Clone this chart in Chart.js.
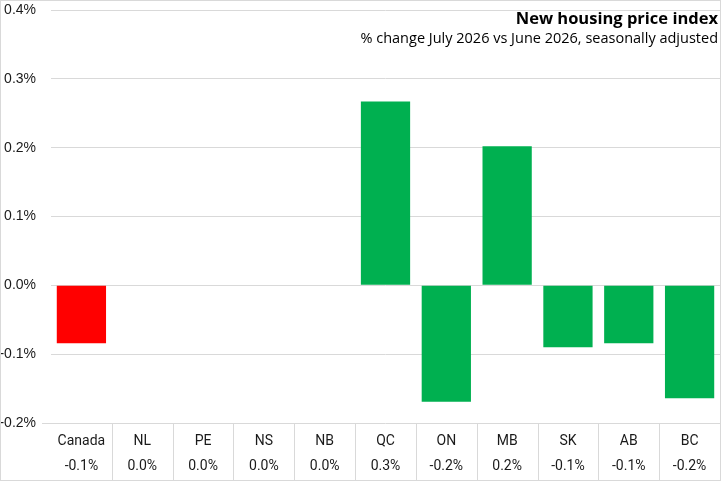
<!DOCTYPE html>
<html>
<head>
<meta charset="utf-8">
<script src="https://cdn.jsdelivr.net/npm/chart.js@4/dist/chart.umd.min.js"></script>
<style>
  html, body { margin: 0; padding: 0; background: #fff; }
  #wrap { width: 721px; height: 481px; }
</style>
</head>
<body>
<div id="wrap"><canvas id="chart" width="721" height="481"></canvas></div>
<script>
// New housing price index, % change by province

var categories = ['Canada', 'NL', 'PE', 'NS', 'NB', 'QC', 'ON', 'MB', 'SK', 'AB', 'BC'];
var values = [-0.084, 0, 0, 0, 0, 0.267, -0.169, 0.202, -0.090, -0.084, -0.164];
var barColors = ['#FF0000', '#00B050', '#00B050', '#00B050', '#00B050', '#00B050',
                 '#00B050', '#00B050', '#00B050', '#00B050', '#00B050'];
var yTicks = [-0.2, -0.1, 0, 0.1, 0.2, 0.3, 0.4];

var titleText = 'New housing price index';
var subtitleText = '% change July 2026 vs June 2026, seasonally adjusted';

var gridColor = '#d9d9d9';
var textColor = '#1a1a1a';

// title, data table lines and outer frame
var decorPlugin = {
  id: 'decor',
  afterDraw: function (chart) {
    var c = chart.ctx;
    var area = chart.chartArea;
    var x = chart.scales.x;
    c.save();
    c.strokeStyle = gridColor;
    c.lineWidth = 1;

    // table separators between categories
    c.beginPath();
    for (var i = 1; i < categories.length; i++) {
      var px = Math.round((x.getPixelForValue(i - 1) + x.getPixelForValue(i)) / 2) + 0.5;
      c.moveTo(px, area.bottom);
      c.lineTo(px, chart.height);
    }
    // table top line extends a bit left of the plot
    c.moveTo(42, Math.round(area.bottom) + 0.5);
    c.lineTo(area.left, Math.round(area.bottom) + 0.5);
    c.stroke();

    // outer frame
    c.strokeRect(0.5, 0.5, chart.width - 1, chart.height - 1);

    // titles, right aligned inside the plot
    c.fillStyle = '#000';
    c.textAlign = 'right';
    c.textBaseline = 'middle';
    c.font = 'bold 16.5px "Open Sans", Roboto, sans-serif';
    c.fillText(titleText, area.right - 2, 19);
    c.font = '14.5px "Open Sans", Roboto, sans-serif';
    c.fillText(subtitleText, area.right - 2, 39);
    c.restore();
  }
};

new Chart(document.getElementById('chart'), {
  type: 'bar',
  data: {
    labels: categories,
    datasets: [{
      data: values,
      backgroundColor: barColors,
      borderWidth: 0,
      categoryPercentage: 1,
      barPercentage: 0.81
    }]
  },
  options: {
    responsive: false,
    animation: false,
    devicePixelRatio: 1,
    layout: { padding: { top: 10, right: 1, bottom: 0, left: 0 } },
    plugins: {
      legend: { display: false },
      tooltip: { enabled: false },
      title: { display: false }
    },
    scales: {
      x: {
        grid: { display: false },
        border: { display: false },
        afterFit: function (s) { s.height = 58; },
        ticks: {
          color: textColor,
          padding: -2,
          maxRotation: 0,
          autoSkip: false,
          font: { family: 'Roboto, "Noto Sans", sans-serif', size: 14, lineHeight: 1.8 },
          callback: function (v, i) {
            return [categories[i], values[i].toFixed(1).replace('-0.0', '0.0') + '%'];
          }
        }
      },
      y: {
        min: yTicks[0],
        max: yTicks[yTicks.length - 1],
        afterFit: function (s) {
          s.width = 51;
          s.paddingTop = 0;
          s.paddingBottom = 0;
        },
        afterBuildTicks: function (s) {
          s.ticks = yTicks.map(function (v) { return { value: v }; });
        },
        grid: { color: gridColor, drawTicks: false },
        border: { display: false },
        ticks: {
          color: textColor,
          padding: 15,
          font: { family: '"Liberation Sans", Arial, sans-serif', size: 14 },
          callback: function (v) { return v.toFixed(1) + '%'; }
        }
      }
    }
  },
  plugins: [decorPlugin]
});
</script>
</body>
</html>
